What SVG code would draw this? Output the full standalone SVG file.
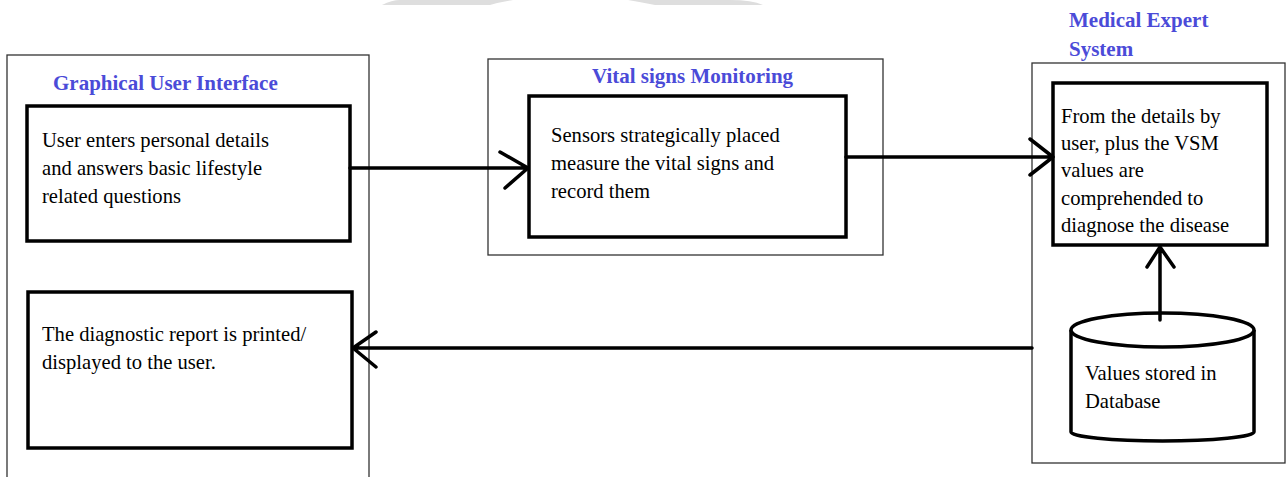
<svg xmlns="http://www.w3.org/2000/svg" width="1286" height="477" viewBox="0 0 1286 477">
<style>
.outer{fill:none;stroke:#333;stroke-width:1.3}
.inner{fill:#fff;stroke:#000;stroke-width:3.5}
.title{font-family:'Liberation Serif','Times New Roman',serif;font-weight:bold;font-size:21px;fill:#4b4bd8}
.body{font-family:'Liberation Serif','Times New Roman',serif;font-size:20.6px;fill:#000}
.conn{fill:none;stroke:#000;stroke-width:3.5;stroke-linecap:round;stroke-linejoin:round}
</style>
<rect width="1286" height="477" fill="#fff"/>
<g id="watermark" fill="#dedede">
<path d="M382 5 Q392 0 400 0 L513 0 Q500 2 490 5 Z"/>
<path d="M628 0 L730 0 Q752 0 763 5 L655 5 Q640 2 628 0 Z"/>
</g>
<g id="gui">
<rect class="outer" x="7" y="55" width="362" height="430"/>
<text class="title" x="53" y="90">Graphical User Interface</text>
</g>
<g id="user-input">
<rect class="inner" x="27" y="106" width="323" height="135"/>
<text class="body" x="42" y="147">User enters personal details</text>
<text class="body" x="42" y="175">and answers basic lifestyle</text>
<text class="body" x="42" y="203">related questions</text>
</g>
<g id="report">
<rect class="inner" x="28" y="292" width="324" height="156"/>
<text class="body" x="42" y="341">The diagnostic report is printed/</text>
<text class="body" x="42" y="369">displayed to the user.</text>
</g>
<g id="vsm">
<rect class="outer" x="488" y="59" width="395" height="196"/>
<text class="title" x="592" y="83">Vital signs Monitoring</text>
</g>
<g id="sensors">
<rect class="inner" x="529" y="96" width="317" height="141"/>
<text class="body" x="551" y="142">Sensors strategically placed</text>
<text class="body" x="551" y="170">measure the vital signs and</text>
<text class="body" x="551" y="198">record them</text>
</g>
<g id="mes">
<rect class="outer" x="1032" y="63" width="253" height="400"/>
<text class="title" x="1069" y="27">Medical Expert</text>
<text class="title" x="1069" y="56">System</text>
</g>
<g id="diagnose">
<rect class="inner" x="1053" y="83" width="214" height="162"/>
<text class="body" x="1061" y="123">From the details by</text>
<text class="body" x="1061" y="150">user, plus the VSM</text>
<text class="body" x="1061" y="177">values are</text>
<text class="body" x="1061" y="205">comprehended to</text>
<text class="body" x="1061" y="232">diagnose the disease</text>
</g>
<g id="database">
<path d="M1071 330 L1071 432 A91.5 9 0 0 0 1254 432 L1254 330" fill="#fff" stroke="#000" stroke-width="3.5"/>
<ellipse cx="1162.5" cy="330" rx="91.5" ry="17" fill="#fff" stroke="#000" stroke-width="3.5"/>
<text class="body" x="1085" y="380">Values stored in</text>
<text class="body" x="1085" y="408">Database</text>
</g>
<g id="connectors">
<path class="conn" d="M350 168 L528 168 M500 152 L528 168 L505 188"/>
<path class="conn" d="M846 157 L1053 157 M1030 139 L1053 157 L1030 175"/>
<path class="conn" d="M1160 320 L1160 247 M1147 267 L1160 247 L1174 267"/>
<path class="conn" d="M1032 348 L353 348 M376 332 L353 348 L376 367"/>
</g>
</svg>
